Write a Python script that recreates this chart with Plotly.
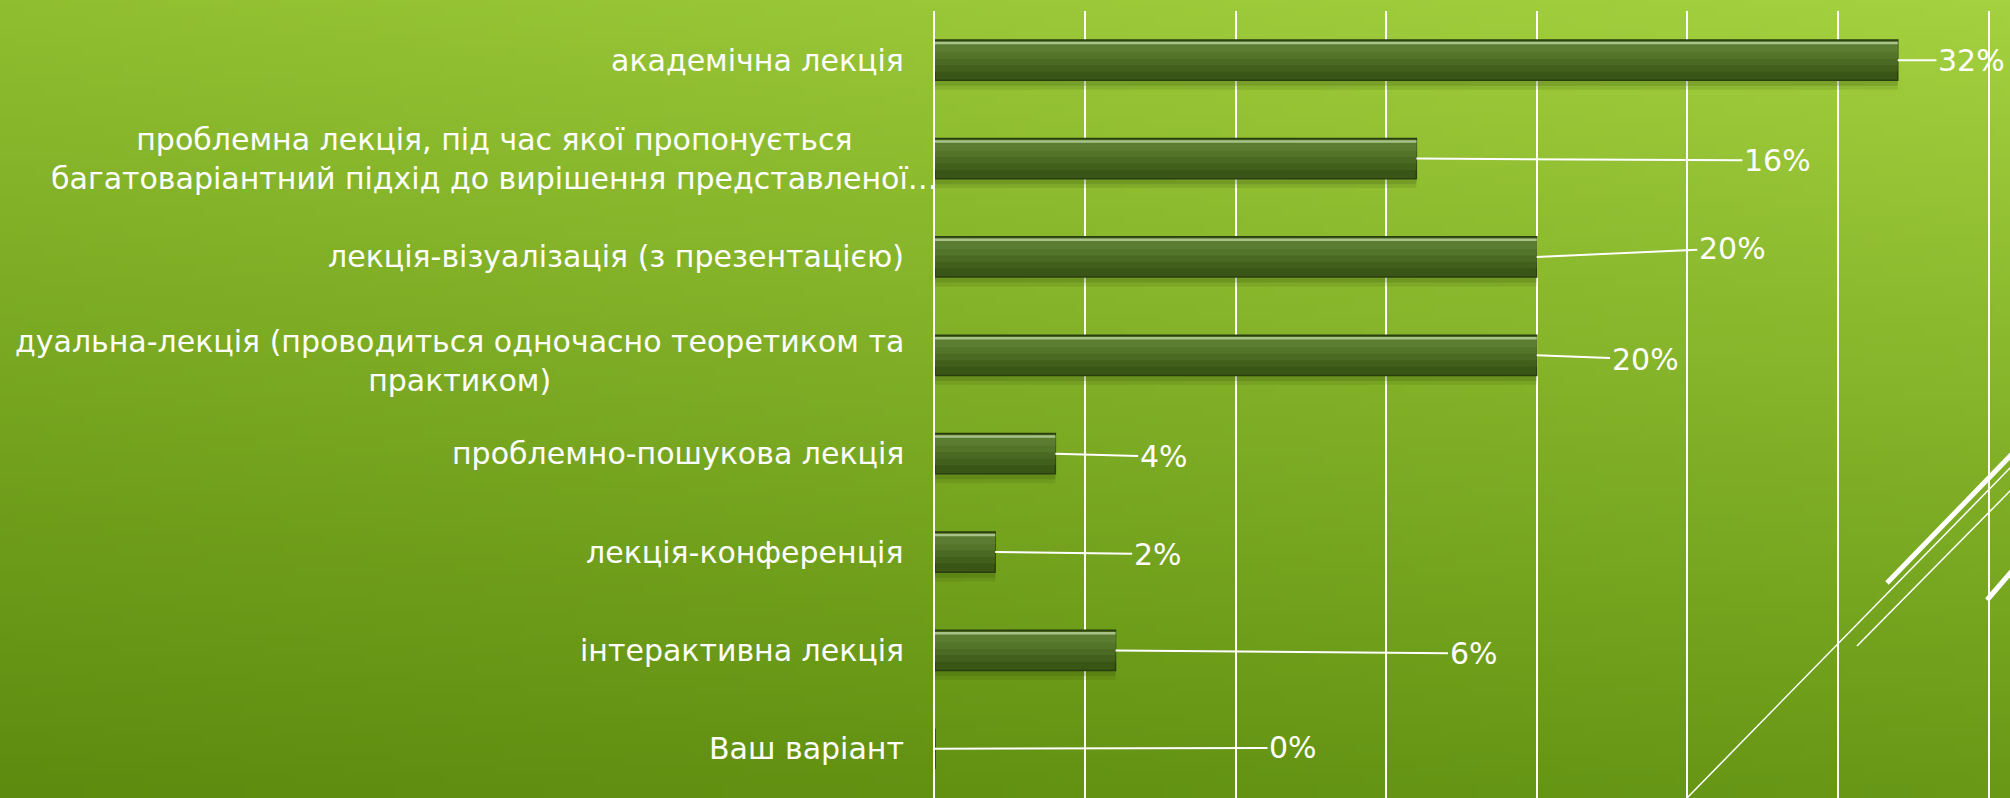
import zlib, struct, base64
import plotly.graph_objects as go

categories = [
    "академічна лекція",
    "проблемна лекція, під час якої пропонується<br>багатоваріантний підхід до вирішення представленої…",
    "лекція-візуалізація (з презентацією)",
    "дуальна-лекція (проводиться одночасно теоретиком та<br>практиком)",
    "проблемно-пошукова лекція",
    "лекція-конференція",
    "інтерактивна лекція",
    "Ваш варіант",
]
values = [32, 16, 20, 20, 4, 2, 6, 0]
value_labels = ["32%", "16%", "20%", "20%", "4%", "2%", "6%", "0%"]

# data-label placement (where the leader line ends), in axis units
label_x = [34.45, 28.0, 26.5, 23.6, 7.6, 7.4, 17.9, 11.9]
label_dy = [0.0, 0.02, -0.09, 0.04, 0.03, 0.02, 0.03, -0.01]
cat_xshift = [-29, 5, -29, -29, -29, -29, -29, -29]
cat_yshift = [0, 0, 0, -6, 0, 0, 0, 0]

W, H = 2010, 798
L, R, T, B = 935, 22, 11, 0
PW, PH = W - L - R, H - T - B

FONT = "DejaVu Sans"
FS = 30


def make_png(w, h, func):
    raw = b"".join(
        b"\x00" + bytes([c for x in range(w) for c in func(x / (w - 1), y / (h - 1))])
        for y in range(h)
    )

    def chunk(t, d):
        c = struct.pack(">I", len(d)) + t + d
        return c + struct.pack(">I", zlib.crc32(t + d) & 0xFFFFFFFF)

    png = (b"\x89PNG\r\n\x1a\n"
           + chunk(b"IHDR", struct.pack(">IIBBBBB", w, h, 8, 2, 0, 0, 0))
           + chunk(b"IDAT", zlib.compress(raw))
           + chunk(b"IEND", b""))
    return "data:image/png;base64," + base64.b64encode(png).decode()


TL, TR, BL, BR = (143, 190, 48), (164, 209, 63), (93, 139, 15), (104, 152, 22)


def bg(u, v):
    return tuple(
        int(round((TL[i] * (1 - u) + TR[i] * u) * (1 - v) + (BL[i] * (1 - u) + BR[i] * u) * v))
        for i in range(3)
    )


bg_src = make_png(201, 80, bg)


def px(X):
    return (X - L) / PW


def py(Y):
    return 1 - (Y - T) / PH


fig = go.Figure()


def bar_layer(width, offset, color, line=None):
    fig.add_trace(go.Bar(
        x=values, y=categories, orientation="h", width=width, offset=offset,
        marker=dict(color=color, line=line or dict(width=0)),
        hoverinfo="skip", showlegend=False))


# soft shadow
bar_layer(0.45, -0.15, "rgba(45,70,10,0.13)")
bar_layer(0.43, -0.17, "rgba(45,70,10,0.18)")
# main bar body, light-to-dark from top to bottom
bar_layer(0.41, -0.205, "#3A5616", dict(color="#2B3E0F", width=1.5))
bar_layer(0.31, -0.195, "#425F1C")
bar_layer(0.24, -0.19, "#4A6A23")
bar_layer(0.17, -0.185, "#53752A")
bar_layer(0.10, -0.18, "#5B7D31")
# top highlight stripe
bar_layer(0.025, -0.187, "#A9C28A")

annotations = []
for i, cat in enumerate(categories):
    annotations.append(dict(
        x=0, xref="paper", y=i, yref="y", text=cat, showarrow=False,
        xanchor="right", yanchor="middle", align="center",
        xshift=cat_xshift[i], yshift=cat_yshift[i],
        font=dict(family=FONT, size=FS, color="white"),
    ))
for i, v in enumerate(values):
    annotations.append(dict(
        x=v, y=i, xref="x", yref="y",
        ax=label_x[i], ay=i + label_dy[i], axref="x", ayref="y",
        text=value_labels[i], showarrow=True, arrowhead=0, arrowwidth=2,
        arrowcolor="white", standoff=0, startstandoff=0,
        font=dict(family=FONT, size=FS, color="white"),
    ))

shapes = [
    dict(type="line", xref="paper", yref="paper", x0=px(1687), y0=py(798), x1=px(2012), y1=py(466),
         line=dict(color="white", width=1.5)),
    dict(type="line", xref="paper", yref="paper", x0=px(1857), y0=py(646), x1=px(2012), y1=py(489),
         line=dict(color="white", width=1.5)),
    dict(type="line", xref="paper", yref="paper", x0=px(1887), y0=py(583), x1=px(2012), y1=py(454),
         line=dict(color="white", width=5)),
    dict(type="line", xref="paper", yref="paper", x0=px(1987), y0=py(600), x1=px(2012), y1=py(571),
         line=dict(color="white", width=5)),
]

fig.update_layout(
    width=W, height=H,
    margin=dict(l=L, r=R, t=T, b=B, pad=0),
    paper_bgcolor="#7BA822",
    plot_bgcolor="rgba(0,0,0,0)",
    barmode="overlay",
    showlegend=False,
    annotations=annotations,
    shapes=shapes,
    images=[dict(source=bg_src, xref="paper", yref="paper",
                 x=-L / PW, y=1 + T / PH, sizex=W / PW, sizey=H / PH,
                 xanchor="left", yanchor="top", sizing="stretch", layer="below")],
    xaxis=dict(range=[0, 35], dtick=5, tick0=0, showticklabels=False, showgrid=True,
               gridcolor="white", gridwidth=1.5, zeroline=False, showline=False,
               fixedrange=True),
    yaxis=dict(type="category", categoryorder="array", categoryarray=categories,
               range=[7.5, -0.5], showticklabels=False, showgrid=False, zeroline=False,
               showline=True, mirror=True, linecolor="white", linewidth=2,
               layer="below traces", fixedrange=True),
)

fig.write_html(
    "out.html",
    config={"displayModeBar": False},
    post_script="document.body.style.margin='0';document.body.style.padding='0';"
                "document.body.style.overflow='hidden';",
)
